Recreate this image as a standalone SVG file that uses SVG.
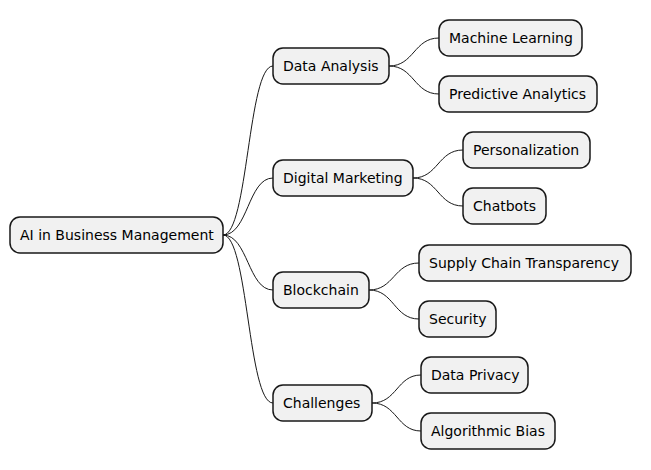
<svg xmlns="http://www.w3.org/2000/svg" width="651" height="470" viewBox="0 0 651 470">
<style>
.n rect{fill:#F1F1F1;stroke:#181818;stroke-width:1.5}
.n text{font-family:"DejaVu Sans",sans-serif;font-size:14px;fill:#000}
.c path{fill:none;stroke:#181818;stroke-width:1}
</style>
<rect width="651" height="470" fill="#fff"/>
<g class="c">
<path d="M223,235 C248,235 248,66 273,66"/>
<path d="M223,235 C248,235 248,178 273,178"/>
<path d="M223,235 C248,235 248,290 273,290"/>
<path d="M223,235 C248,235 248,403 273,403"/>
<path d="M389,66 C414,66 414,38 439,38"/>
<path d="M389,66 C414,66 414,94 439,94"/>
<path d="M413,178 C438,178 438,150 463,150"/>
<path d="M413,178 C438,178 438,206 463,206"/>
<path d="M369,290 C394,290 394,263 419,263"/>
<path d="M369,290 C394,290 394,319 419,319"/>
<path d="M372,403 C397,403 397,375 421,375"/>
<path d="M372,403 C397,403 397,431 421,431"/>
</g>
<g id="root" class="n"><rect x="10" y="217" width="213" height="36" rx="10"/><text x="20" y="240">AI in Business Management</text></g>
<g id="da" class="n"><rect x="273" y="48" width="116" height="36" rx="10"/><text x="283" y="71">Data Analysis</text></g>
<g id="dm" class="n"><rect x="273" y="160" width="140" height="36" rx="10"/><text x="283" y="183">Digital Marketing</text></g>
<g id="bc" class="n"><rect x="273" y="272" width="96" height="36" rx="10"/><text x="283" y="295">Blockchain</text></g>
<g id="ch" class="n"><rect x="273" y="385" width="99" height="36" rx="10"/><text x="283" y="408">Challenges</text></g>
<g id="ml" class="n"><rect x="439" y="20" width="143" height="36" rx="10"/><text x="449" y="43">Machine Learning</text></g>
<g id="pa" class="n"><rect x="439" y="76" width="158" height="36" rx="10"/><text x="449" y="99">Predictive Analytics</text></g>
<g id="pe" class="n"><rect x="463" y="132" width="127" height="36" rx="10"/><text x="473" y="155">Personalization</text></g>
<g id="cb" class="n"><rect x="463" y="188" width="83" height="36" rx="10"/><text x="473" y="211">Chatbots</text></g>
<g id="sc" class="n"><rect x="419" y="245" width="212" height="36" rx="10"/><text x="429" y="268">Supply Chain Transparency</text></g>
<g id="se" class="n"><rect x="419" y="301" width="77" height="36" rx="10"/><text x="429" y="324">Security</text></g>
<g id="dp" class="n"><rect x="421" y="357" width="107" height="36" rx="10"/><text x="431" y="380">Data Privacy</text></g>
<g id="ab" class="n"><rect x="421" y="413" width="134" height="36" rx="10"/><text x="431" y="436">Algorithmic Bias</text></g>
</svg>
